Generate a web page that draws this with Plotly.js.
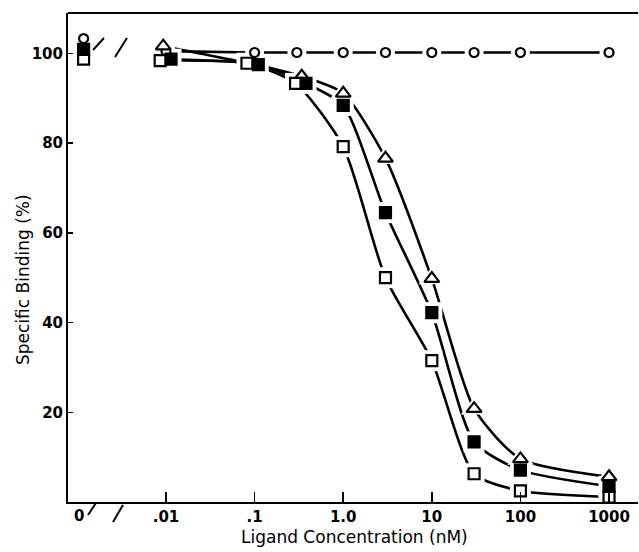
<!DOCTYPE html>
<html>
<head>
<meta charset="utf-8">
<script src="https://cdn.plot.ly/plotly-3.0.1.min.js"></script>
<style>html,body{margin:0;padding:0;background:#fff;overflow:hidden;}</style>
</head>
<body>
<div id="chart" style="width:639px;height:552px;"></div>
<script>
// Concentration 0 is drawn on a broken-axis position left of .01
const ZERO_POS = Math.pow(10, -2.93);

// Open circles (flat control curve)
const circleConc = [0, 0.01, 0.1, 0.3, 1, 3, 10, 30, 100, 1000];
const circleVal  = [103.3, 100.5, 100.2, 100.2, 100.2, 100.2, 100.2, 100.2, 100.2, 100.2];

// Open squares
const openSqConc = [0, 0.0086, 0.082, 0.29, 1, 3, 10, 30, 100, 1000];
const openSqVal  = [98.7, 98.4, 97.8, 93.3, 79.2, 50.0, 31.5, 6.3, 2.5, 1.1];

// Filled squares
const fillSqConc = [0, 0.0114, 0.11, 0.38, 1, 3, 10, 30, 100, 1000];
const fillSqVal  = [100.9, 98.7, 97.5, 93.3, 88.4, 64.5, 42.2, 13.4, 7.1, 3.5];

// Open triangles
const triConc = [0.0093, 0.1, 0.34, 1, 3, 10, 30, 100, 1000];
const triVal  = [101.6, 97.5, 94.9, 91.1, 76.6, 49.8, 20.8, 9.6, 5.6];

// Axis ticks
const xTickVals = [0.01, 0.1, 1, 10, 100, 1000];
const xTickText = ['.01', '.1', '1.0', '10', '100', '1000'];
const yTickVals = [20, 40, 60, 80, 100];
const yTickText = ['20', '40', '60', '80', '100'];

const mapX = a => a.map(v => v === 0 ? ZERO_POS : v);

function lineTrace(conc, val) {
  const xs = [], ys = [];
  conc.forEach((c, i) => { if (c > 0) { xs.push(c); ys.push(val[i]); } });
  return {x: xs, y: ys, mode: 'lines', type: 'scatter', hoverinfo: 'skip',
          line: {color: '#000', width: 2.6, shape: 'spline', smoothing: 0.65}};
}
function haloTrace(conc, val, symbol, size) {
  return {x: mapX(conc), y: val, mode: 'markers', type: 'scatter', hoverinfo: 'skip',
          marker: {symbol: symbol, size: size + 10, color: '#fff', line: {width: 0}}};
}
function markTrace(conc, val, symbol, size, fill) {
  return {x: mapX(conc), y: val, mode: 'markers', type: 'scatter',
          marker: {symbol: symbol, size: size, color: fill, line: {color: '#000', width: 2.2}}};
}

const data = [
  lineTrace(circleConc, circleVal),
  lineTrace(openSqConc, openSqVal),
  lineTrace(fillSqConc, fillSqVal),
  lineTrace(triConc, triVal),
  haloTrace(circleConc, circleVal, 'circle', 9),
  haloTrace(openSqConc, openSqVal, 'square', 11),
  haloTrace(fillSqConc, fillSqVal, 'square', 11),
  haloTrace(triConc, triVal, 'triangle-up', 13),
  markTrace(circleConc, circleVal, 'circle', 9, '#fff'),
  markTrace(triConc, triVal, 'triangle-up', 13, '#fff'),
  markTrace(openSqConc, openSqVal, 'square', 11, '#fff'),
  markTrace(fillSqConc, fillSqVal, 'square', 11, '#000')
];

// helpers for pixel-based decorations (plot area: x 68..638, y 13..502)
const px = x => (x - 68) / 570;
const py = y => (502 - y) / 489;
const slash = (x0, y0, x1, y1) => ({type: 'line', xref: 'paper', yref: 'paper',
  x0: px(x0), y0: py(y0), x1: px(x1), y1: py(y1), line: {color: '#000', width: 2}});

const tickFont = {family: 'DejaVu Sans, sans-serif', size: 15, color: '#000', weight: 'bold'};
const titleFont = {family: 'DejaVu Sans, sans-serif', size: 17, color: '#000'};

const layout = {
  width: 639, height: 552,
  margin: {l: 68, r: 1, t: 13, b: 50},
  paper_bgcolor: '#fff', plot_bgcolor: '#fff',
  showlegend: false,
  font: {family: 'DejaVu Sans, sans-serif', color: '#000'},
  xaxis: {
    type: 'log', range: [-3.106, 3.327],
    showline: true, linecolor: '#000', linewidth: 2,
    showgrid: false, zeroline: false,
    ticks: 'inside', ticklen: 10, tickwidth: 1.5, tickcolor: '#000',
    tickvals: xTickVals, ticktext: xTickText, tickfont: tickFont
  },
  yaxis: {
    range: [0, 109],
    showline: true, linecolor: '#000', linewidth: 2,
    showgrid: false, zeroline: false,
    ticks: 'inside', ticklen: 5, tickwidth: 1.5, tickcolor: '#000',
    tickvals: yTickVals, ticktext: yTickText, tickfont: tickFont
  },
  annotations: [
    {xref: 'x', yref: 'paper', x: Math.log10(ZERO_POS) - 0.05, y: 0, yanchor: 'top', yshift: -3,
     text: '0', showarrow: false, font: tickFont},
    {xref: 'paper', yref: 'paper', x: px(354), y: py(537), xanchor: 'center', yanchor: 'middle',
     text: 'Ligand Concentration (nM)', showarrow: false, font: titleFont},
    {xref: 'paper', yref: 'paper', x: px(23), y: py(280), xanchor: 'center', yanchor: 'middle',
     text: 'Specific Binding (%)', textangle: -90, showarrow: false, font: titleFont}
  ],
  shapes: [
    {type: 'line', xref: 'paper', yref: 'paper', x0: 0, x1: 1, y0: 1, y1: 1,
     line: {color: '#000', width: 2}},
    slash(93, 50, 104, 38),
    slash(115, 57, 127, 38),
    slash(88, 515, 96, 503),
    slash(113, 522, 123, 505)
  ]
};

Plotly.newPlot('chart', data, layout, {staticPlot: true, displayModeBar: false});
</script>
</body>
</html>
